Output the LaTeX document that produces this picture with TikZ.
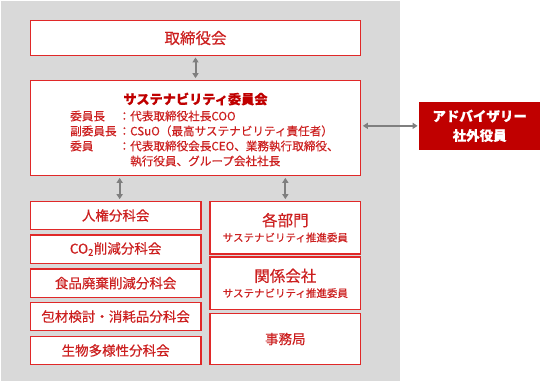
\documentclass[tikz,border=0pt]{standalone}
\usepackage{fontspec}
\setmainfont{Noto Sans CJK JP}[FakeBold=0.3]
\usepackage{tikz}
\usetikzlibrary{arrows.meta,calc}
\definecolor{bggray}{HTML}{D9D9D9}
\definecolor{lnred}{HTML}{E02828}
\definecolor{txtred}{HTML}{CC1F1F}
\definecolor{advred}{HTML}{C00000}
\definecolor{arrgray}{HTML}{7F7F7F}
\newcommand{\fs}[2]{\fontsize{#1}{#2}\selectfont}
\tikzset{
  box/.style={draw=lnred, line width=1.3pt, fill=white, inner sep=0pt, align=center, text=txtred},
  sub/.style={box, minimum width=170.7pt, minimum height=28.3pt, font=\fs{13.5}{16}},
  unit/.style={box, minimum width=150.7pt, minimum height=52.7pt, font=\fs{10.5}{15.4}},
  arr/.style={{Triangle[width=6pt,length=5pt]}-{Triangle[width=6pt,length=5pt]}, line width=2pt, draw=arrgray, shorten <=1.5pt, shorten >=1.5pt}}

\begin{document}
\begin{tikzpicture}[x=1pt,y=-1pt]
  \useasboundingbox (0,0) rectangle (540,384);
  \fill[bggray] (1,1) rectangle (400,381);
  \node[box, minimum width=330.4pt, minimum height=34.6pt, font=\fs{15.5}{18}] (board) at (195.5,38) {取締役会};
  \node[box, minimum width=330.4pt, minimum height=95.4pt] (com) at (195.5,128) {};
  \node[font=\bfseries\fs{13.2}{16}, text=advred, inner sep=0pt] (comt) at (195.5,99) {サステナビリティ委員会};
  \node[font=\fs{11.6}{15}, text=txtred, inner sep=0pt, anchor=base west] (mem) at (70,120.4) {\begin{tabular}[t]{@{}l@{\hspace{2pt}}l@{}l@{}}
    委員長 & ： & 代表取締役社長COO\\
    副委員長 & ： & CSuO（最高サステナビリティ責任者）\\
    委員 & ： & 代表取締役会長CEO、業務執行取締役、\\
    & & 執行役員、グループ会社社長
  \end{tabular}};
  \node[fill=advred, minimum width=120.7pt, minimum height=48.3pt, inner sep=0pt, align=center, text=white, font=\bfseries\fs{13.5}{19.4}] (adv) at (479.65,125.85) {アドバイザリー\\社外役員};
  % subcommittees
  \node[sub] (hr) at (115.65,215.5) {人権分科会};
  \node[sub] (co2) at (115.65,249) {CO\textsubscript{2}削減分科会};
  \node[sub] (food) at (115.65,283.15) {食品廃棄削減分科会};
  \node[sub] (pack) at (115.65,316.5) {包材検討・消耗品分科会};
  \node[sub] (bio) at (115.65,350.5) {生物多様性分科会};
  % promotion members
  \node[unit] (dept) at (285.35,227.65) {{\fs{15.5}{15.4}各部門}\\サステナビリティ推進委員};
  \node[unit] (group) at (285.35,283.35) {{\fs{15.5}{15.4}関係会社}\\サステナビリティ推進委員};
  \node[unit, minimum height=51.4pt, font=\fs{13.5}{16}] (office) at (285.35,339) {事務局};
  \draw[arr] (board) -- (com);
  \draw[arr] (com.east |- adv.west) -- (adv.west);
  \draw[arr] ($(hr.north |- com.south)+(4,0)$) -- ($(hr.north)+(4,0)$);
  \draw[arr] (dept.north |- com.south) -- (dept.north);
\end{tikzpicture}
\end{document}
